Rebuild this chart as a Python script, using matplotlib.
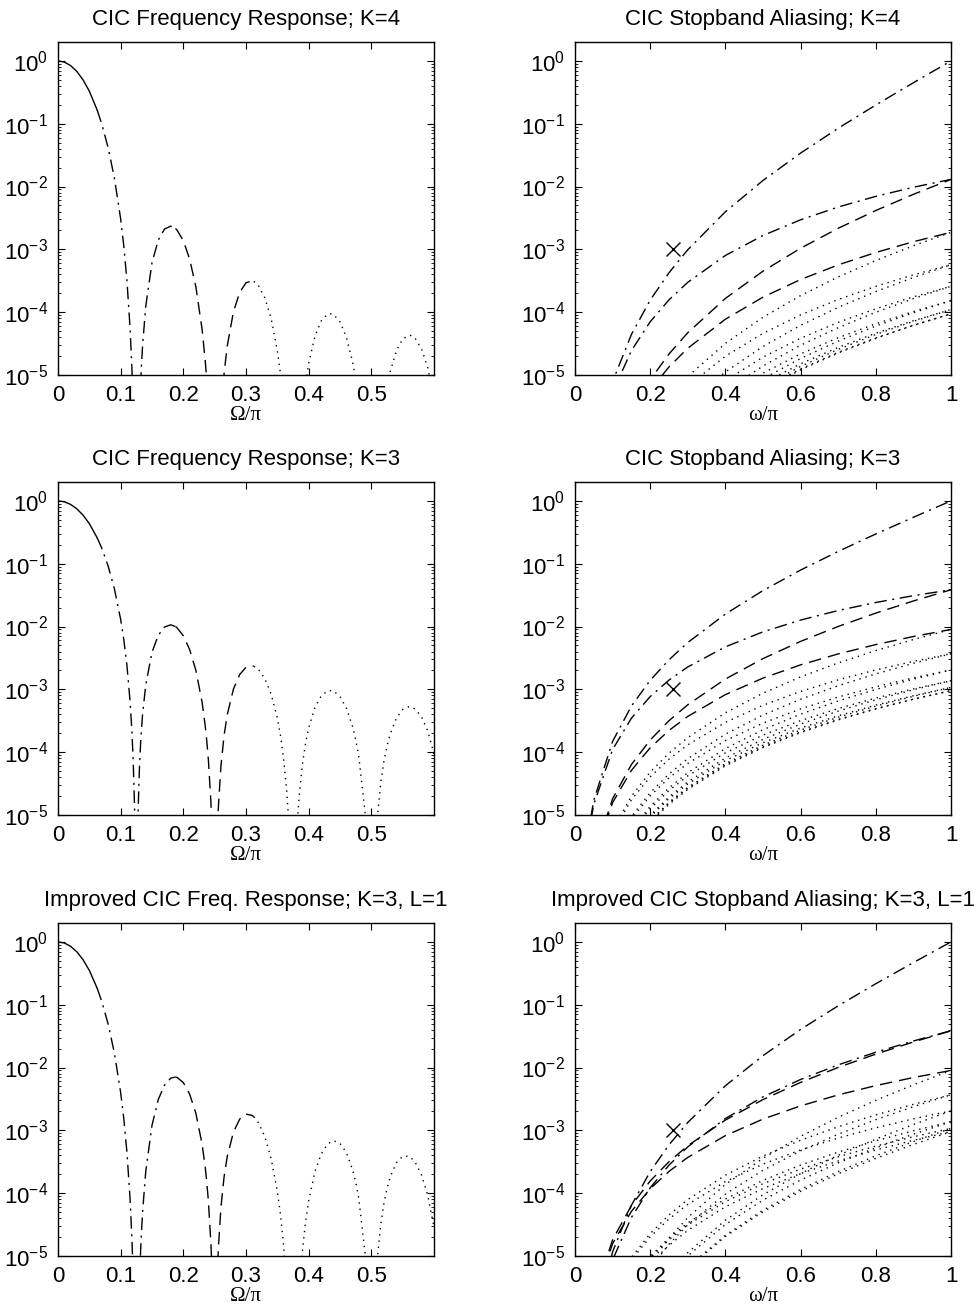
import matplotlib
matplotlib.use("Agg")
import matplotlib.pyplot as plt
import numpy as np

plt.rcParams['font.family'] = ['Liberation Sans', 'DejaVu Sans']
plt.rcParams['mathtext.fontset'] = 'custom'
plt.rcParams['mathtext.rm'] = 'Liberation Sans'
plt.rcParams['mathtext.it'] = 'Liberation Sans:italic'
plt.rcParams['mathtext.bf'] = 'Liberation Sans:bold'

# ---- frequency response panels (x = Omega/pi) ----
freq = [0, 0.01, 0.02, 0.03, 0.04, 0.05, 0.0625, 0.07, 0.08, 0.09,
        0.1, 0.105, 0.11, 0.115, 0.118, 0.12, 0.122, 0.1225, 0.1275, 0.128,
        0.13, 0.132, 0.133, 0.135, 0.14, 0.15, 0.16, 0.17, 0.18, 0.1875,
        0.19, 0.2, 0.21, 0.22, 0.23, 0.235, 0.237, 0.24, 0.244, 0.245,
        0.255, 0.256, 0.26, 0.265, 0.27, 0.28, 0.29, 0.3, 0.31, 0.3125,
        0.32, 0.33, 0.34, 0.35, 0.355, 0.36, 0.365, 0.367, 0.368, 0.382,
        0.383, 0.385, 0.39, 0.395, 0.4, 0.41, 0.42, 0.43, 0.4375, 0.44,
        0.45, 0.46, 0.47, 0.475, 0.48, 0.49, 0.491, 0.509, 0.51, 0.515,
        0.52, 0.525, 0.53, 0.54, 0.55, 0.56, 0.5625, 0.57, 0.58, 0.59,
        0.6]

resp_k4 = [1.0, 0.95893, 0.84427, 0.68049, 0.49889, 0.32943, 0.16532, 0.09798, 0.04145, 0.013646,
           3.0415e-3, 1.1309e-3, 3.2069e-4, 5.6020e-5, 1.2412e-5, 3.0541e-6, 3.7336e-7, 1.7737e-7, 1.5141e-7, 3.0889e-7,
           2.2262e-6, 7.9723e-6, 1.3119e-5, 2.9743e-5, 1.2375e-4, 6.1331e-4, 1.4060e-3, 2.1095e-3, 2.3451e-3, 2.1483e-3,
           2.0253e-3, 1.3692e-3, 7.0437e-4, 2.5446e-4, 5.2647e-5, 1.6532e-5, 9.2469e-6, 3.1781e-6, 3.9742e-7, 1.8956e-7,
           1.6287e-7, 3.3116e-7, 2.3461e-6, 1.0483e-5, 2.8659e-5, 1.0193e-4, 2.0702e-4, 2.9387e-4, 3.1573e-4, 3.0897e-4,
           2.6378e-4, 1.6973e-4, 8.0101e-5, 2.4438e-5, 1.0481e-5, 3.3995e-6, 6.7413e-7, 2.7495e-7, 1.6064e-7, 1.4071e-7,
           2.3635e-7, 5.5791e-7, 2.5590e-6, 7.1765e-6, 1.5259e-5, 4.1384e-5, 7.2481e-5, 9.2958e-5, 9.4206e-5, 9.1703e-5,
           7.0174e-5, 4.0546e-5, 1.6332e-5, 8.5791e-6, 3.7427e-6, 2.4885e-7, 1.6352e-7, 1.4599e-7, 2.1938e-7, 1.0217e-6,
           2.9085e-6, 6.2595e-6, 1.1187e-5, 2.4469e-5, 3.7339e-5, 4.2951e-5, 4.2735e-5, 3.8294e-5, 2.6238e-5, 1.3151e-5,
           4.2518e-6]

resp_k3 = [1.0, 0.96904, 0.88076, 0.74923, 0.59361, 0.43483, 0.25927, 0.17512, 0.09186, 0.039925,
           0.012951, 6.1667e-3, 2.3964e-3, 6.4753e-4, 2.0911e-4, 7.3056e-5, 1.5104e-5, 8.6429e-6, 7.6757e-6, 1.3102e-5,
           5.7634e-5, 1.5003e-4, 2.1798e-4, 4.0275e-4, 1.1733e-3, 3.8973e-3, 7.2608e-3, 9.8431e-3, 1.0657e-2, 9.9787e-3,
           9.5469e-3, 7.1177e-3, 4.3237e-3, 2.0147e-3, 6.1806e-4, 2.5927e-4, 1.6769e-4, 7.5270e-5, 1.5828e-5, 9.0849e-6,
           8.1073e-6, 1.3805e-5, 5.9946e-5, 1.8423e-4, 3.9169e-4, 1.0145e-3, 1.7259e-3, 2.2445e-3, 2.3686e-3, 2.3304e-3,
           2.0698e-3, 1.4870e-3, 8.4670e-4, 3.4758e-4, 1.8420e-4, 7.9170e-5, 2.3526e-5, 1.2007e-5, 8.0240e-6, 7.2653e-6,
           1.0719e-5, 2.0414e-5, 6.3981e-5, 1.3865e-4, 2.4414e-4, 5.1597e-4, 7.8554e-4, 9.4671e-4, 9.5622e-4, 9.3711e-4,
           7.6671e-4, 5.0812e-4, 2.5691e-4, 1.5852e-4, 8.5092e-5, 1.1142e-5, 8.1316e-6, 7.4686e-6, 1.0137e-5, 3.2136e-5,
           7.0428e-5, 1.2514e-4, 1.9344e-4, 3.4790e-4, 4.7767e-4, 5.3055e-4, 5.2855e-4, 4.8679e-4, 3.6660e-4, 2.1839e-4,
           9.3633e-5]

resp_imp = [1.0, 0.96140, 0.85309, 0.69661, 0.52018, 0.35178, 0.18333, 0.11162, 0.049221, 0.016999,
            4.0021e-3, 1.5336e-3, 4.4904e-4, 8.1157e-5, 1.8370e-5, 4.5873e-6, 5.693e-7, 2.715e-7, 2.411e-7, 4.938e-7,
            3.6189e-6, 1.3180e-5, 2.1877e-5, 5.0478e-5, 2.1985e-4, 1.2043e-3, 3.0915e-3, 5.2742e-3, 6.7930e-3, 7.0560e-3,
            6.9594e-3, 5.7583e-3, 3.7889e-3, 1.8732e-3, 5.9864e-4, 2.5468e-4, 1.6546e-4, 7.4677e-5, 1.5783e-5, 9.0670e-6,
            8.0913e-6, 1.3766e-5, 5.9473e-5, 1.8097e-4, 3.7938e-4, 9.4326e-4, 1.5124e-3, 1.8158e-3, 1.7266e-3, 1.6478e-3,
            1.3193e-3, 7.9678e-4, 3.6051e-4, 1.0741e-4, 4.5809e-5, 1.4835e-5, 2.9486e-6, 1.2050e-6, 7.0492e-7, 6.3826e-7,
            1.0758e-6, 2.5585e-6, 1.1989e-5, 3.4481e-5, 7.5443e-5, 2.1969e-4, 4.2091e-4, 6.0346e-4, 6.7615e-4, 6.8312e-4,
            6.2028e-4, 4.4527e-4, 2.3887e-4, 1.5076e-4, 8.2419e-5, 1.1054e-5, 8.0796e-6, 7.4209e-6, 1.0057e-5, 3.1567e-5,
            6.8215e-5, 1.1902e-4, 1.7986e-4, 3.0487e-4, 3.8644e-4, 3.8675e-4, 3.7374e-4, 3.1029e-4, 1.9643e-4, 9.2986e-5,
            2.8935e-5]

# passband | 1st alias band | 2nd alias band | rest
band_edges = [0.0, 0.0625, 0.1875, 0.3125, 0.6]

# ---- stopband aliasing panels (x = omega/pi) ----
omega = [0.03, 0.05, 0.1, 0.15, 0.2, 0.25, 0.3, 0.4, 0.5, 0.6, 0.7, 0.8, 0.9, 1.0]
alias_band = [1, 1, 2, 2, 3, 3, 4, 4, 5, 5, 6, 6, 7, 7, 8]

alias_k4 = [
    [5.514e-8, 4.4294e-7, 7.8531e-6, 4.4176e-5, 1.5559e-4, 4.2460e-4, 9.8741e-4, 3.9671e-3, 0.012505, 0.034085, 0.084716, 0.19855, 0.44929, 1.0],
    [4.897e-8, 3.636e-7, 5.2896e-6, 2.4405e-5, 7.0445e-5, 1.5740e-4, 2.9930e-4, 7.9997e-4, 1.6630e-3, 2.9554e-3, 4.7202e-3, 6.9803e-3, 9.7420e-3, 0.012999],
    [3.610e-9, 2.8395e-8, 4.7684e-7, 2.5352e-6, 8.4209e-6, 2.1622e-5, 4.7185e-5, 1.6554e-4, 4.5002e-4, 1.0425e-3, 2.1650e-3, 4.1557e-3, 7.5191e-3, 0.012999],
    [3.410e-9, 2.5827e-8, 3.9445e-7, 1.9074e-6, 5.7610e-6, 1.3450e-5, 2.6686e-5, 7.7331e-5, 1.7347e-4, 3.3115e-4, 5.6587e-4, 8.9205e-4, 1.3227e-3, 1.8692e-3],
    [8.04e-10, 6.277e-9, 1.0347e-7, 5.3984e-7, 1.7588e-6, 4.4274e-6, 9.4704e-6, 3.1874e-5, 8.2981e-5, 1.8373e-4, 3.6394e-4, 6.6478e-4, 1.1419e-3, 1.8692e-3],
    [7.76e-10, 5.918e-9, 9.2002e-8, 4.5256e-7, 1.3901e-6, 3.2998e-6, 6.6539e-6, 1.9903e-5, 4.6033e-5, 9.0517e-5, 1.5917e-4, 2.5797e-4, 3.9289e-4, 5.6987e-4],
    [3.05e-10, 2.369e-9, 3.8659e-8, 1.9968e-7, 6.4397e-7, 1.6044e-6, 3.3963e-6, 1.1190e-5, 2.8499e-5, 6.1697e-5, 1.1941e-4, 2.1301e-4, 3.5703e-4, 5.6987e-4],
    [2.97e-10, 2.277e-9, 3.5735e-8, 1.7748e-7, 5.5035e-7, 1.3184e-6, 2.6830e-6, 8.1704e-6, 1.9233e-5, 3.8472e-5, 6.8796e-5, 1.1334e-4, 1.7543e-4, 2.5850e-4],
    [1.59e-10, 1.231e-9, 1.9959e-8, 1.0239e-7, 3.2804e-7, 8.1184e-7, 1.7067e-6, 5.5458e-6, 1.3928e-5, 2.9722e-5, 5.6695e-5, 9.9632e-5, 1.6448e-4, 2.5850e-4],
    [1.56e-10, 1.199e-9, 1.8938e-8, 9.4649e-8, 2.9533e-7, 7.1197e-7, 1.4578e-6, 4.4950e-6, 1.0710e-5, 2.1681e-5, 3.9232e-5, 6.5392e-5, 1.0238e-4, 1.5257e-4],
    [1.04e-10, 8.03e-10, 1.2962e-8, 6.6178e-8, 2.1090e-7, 5.1927e-7, 1.0860e-6, 3.4929e-6, 8.6803e-6, 1.8328e-5, 3.4586e-5, 6.0125e-5, 9.8172e-5, 1.5257e-4],
    [1.03e-10, 7.90e-10, 1.2549e-8, 6.3018e-8, 1.9761e-7, 4.7873e-7, 9.8505e-7, 3.0664e-6, 7.3761e-6, 1.5074e-5, 2.7532e-5, 4.6319e-5, 7.3188e-5, 1.1007e-4],
    [8.15e-11, 6.30e-10, 1.0121e-8, 5.1439e-8, 1.6326e-7, 4.0022e-7, 8.3346e-7, 2.6573e-6, 6.5471e-6, 1.3703e-5, 2.5632e-5, 4.4163e-5, 7.1465e-5, 1.1007e-4],
    [8.11e-11, 6.25e-10, 9.9624e-9, 5.0248e-8, 1.5822e-7, 3.8491e-7, 7.9531e-7, 2.4964e-6, 6.0550e-6, 1.2475e-5, 2.2972e-5, 3.8964e-5, 6.2068e-5, 9.4099e-5],
    [7.52e-11, 5.81e-10, 9.2909e-9, 4.7042e-8, 1.4871e-7, 3.6317e-7, 7.5335e-7, 2.3830e-6, 5.8249e-6, 1.2095e-5, 2.2445e-5, 3.8365e-5, 6.1590e-5, 9.4099e-5],
]

alias_k3 = [
    [3.5985e-6, 1.7170e-5, 1.4835e-4, 5.4186e-4, 1.3931e-3, 2.9579e-3, 5.5702e-3, 0.015807, 0.037396, 0.079327, 0.15703, 0.29744, 0.54877, 1.0],
    [3.2920e-6, 1.4807e-5, 1.1030e-4, 3.4722e-4, 7.6893e-4, 1.4052e-3, 2.2755e-3, 4.7567e-3, 8.2352e-3, 0.012675, 0.018008, 0.024149, 0.031009, 0.038497],
    [4.6574e-7, 2.1874e-6, 1.8146e-5, 6.3535e-5, 1.5632e-4, 3.1708e-4, 5.6931e-4, 1.4594e-3, 3.0898e-3, 5.8016e-3, 0.010037, 0.016368, 0.025534, 0.038497],
    [4.4628e-7, 2.0373e-6, 1.5740e-5, 5.1325e-5, 1.1759e-4, 2.2209e-4, 3.7129e-4, 8.2464e-4, 1.5115e-3, 2.4548e-3, 3.6689e-3, 5.1617e-3, 6.9356e-3, 8.9896e-3],
    [1.5097e-7, 7.0518e-7, 5.7690e-6, 1.9916e-5, 4.8296e-5, 9.6519e-5, 1.7072e-4, 4.2421e-4, 8.6943e-4, 1.5781e-3, 2.6350e-3, 4.1401e-3, 6.2119e-3, 8.9896e-3],
    [1.4703e-7, 6.7478e-7, 5.2826e-6, 1.7448e-5, 4.0484e-5, 7.7423e-5, 1.3101e-4, 2.9799e-4, 5.5886e-4, 9.2800e-4, 1.4170e-3, 2.0355e-3, 2.7906e-3, 3.6884e-3],
    [7.290e-8, 3.3953e-7, 2.7570e-6, 9.4462e-6, 2.2733e-5, 4.5080e-5, 7.9114e-5, 1.9347e-4, 3.9006e-4, 6.9614e-4, 1.1423e-3, 1.7632e-3, 2.5973e-3, 3.6884e-3],
    [7.162e-8, 3.2967e-7, 2.5991e-6, 8.6468e-6, 2.0206e-5, 3.8907e-5, 6.6292e-5, 1.5282e-4, 2.9042e-4, 4.8849e-4, 7.5539e-4, 1.0985e-3, 1.5243e-3, 2.0387e-3],
    [4.471e-8, 2.0780e-7, 1.6792e-6, 5.7238e-6, 1.3707e-5, 2.7046e-5, 4.7218e-5, 1.1428e-4, 2.2799e-4, 4.0254e-4, 6.5337e-4, 9.9724e-4, 1.4524e-3, 2.0387e-3],
    [4.418e-8, 2.0375e-7, 1.6144e-6, 5.3962e-6, 1.2669e-5, 2.4510e-5, 4.1955e-5, 9.7621e-5, 1.8722e-4, 3.1773e-4, 4.9571e-4, 7.2718e-4, 1.0178e-3, 1.3728e-3],
    [3.252e-8, 1.5091e-7, 1.2148e-6, 4.1261e-6, 9.8415e-6, 1.9344e-5, 3.3642e-5, 8.0795e-5, 1.5992e-4, 2.8011e-4, 4.5100e-4, 6.8280e-4, 9.8626e-4, 1.3728e-3],
    [3.228e-8, 1.4908e-7, 1.1856e-6, 3.9774e-6, 9.3727e-6, 1.8200e-5, 3.1268e-5, 7.3277e-5, 1.4154e-4, 2.4192e-4, 3.8008e-4, 5.6146e-4, 7.9128e-4, 1.0746e-3],
    [2.713e-8, 1.2574e-7, 1.0090e-6, 3.4156e-6, 8.1219e-6, 1.5912e-5, 2.7585e-5, 6.5816e-5, 1.2943e-4, 2.2522e-4, 3.6023e-4, 5.4174e-4, 7.7727e-4, 1.0746e-3],
    [2.703e-8, 1.2500e-7, 9.9718e-7, 3.3561e-6, 7.9330e-6, 1.5453e-5, 2.6632e-5, 6.2803e-5, 1.2206e-4, 2.0991e-4, 3.3182e-4, 4.9317e-4, 6.9928e-4, 9.5541e-4],
    [2.555e-8, 1.1828e-7, 9.4633e-7, 3.1942e-6, 7.5728e-6, 1.4794e-5, 2.5571e-5, 6.0652e-5, 1.1857e-4, 2.0510e-4, 3.2609e-4, 4.8747e-4, 6.9524e-4, 9.5541e-4],
]

alias_imp = [
    [8.480e-8, 6.746e-7, 1.1675e-5, 6.4135e-5, 2.2064e-4, 5.8836e-4, 1.3373e-3, 5.1360e-3, 0.015490, 0.040419, 0.096228, 0.21610, 0.46869, 1.0],
    [7.758e-8, 5.818e-7, 8.681e-6, 4.1097e-5, 1.2179e-4, 2.7951e-4, 5.4630e-4, 1.5456e-3, 3.4111e-3, 6.4582e-3, 0.011035, 0.017545, 0.026484, 0.038497],
    [4.6574e-7, 2.1874e-6, 1.8146e-5, 6.3535e-5, 1.5632e-4, 3.1708e-4, 5.6931e-4, 1.4594e-3, 3.0898e-3, 5.8016e-3, 0.010037, 0.016368, 0.025534, 0.038497],
    [4.4628e-7, 2.0373e-6, 1.5740e-5, 5.1325e-5, 1.1759e-4, 2.2209e-4, 3.7129e-4, 8.2464e-4, 1.5115e-3, 2.4548e-3, 3.6689e-3, 5.1617e-3, 6.9356e-3, 8.9896e-3],
    [3.558e-9, 2.771e-8, 4.540e-7, 2.3573e-6, 7.6493e-6, 1.9199e-5, 4.0986e-5, 1.3784e-4, 3.6013e-4, 8.0408e-4, 1.6147e-3, 3.0080e-3, 5.3055e-3, 8.9896e-3],
    [3.465e-9, 2.651e-8, 4.158e-7, 2.0651e-6, 6.4120e-6, 1.5400e-5, 3.1453e-5, 9.6823e-5, 2.3149e-4, 4.7284e-4, 8.6834e-4, 1.4789e-3, 2.3834e-3, 3.6884e-3],
    [7.290e-8, 3.3953e-7, 2.7570e-6, 9.4462e-6, 2.2733e-5, 4.5080e-5, 7.9114e-5, 1.9347e-4, 3.9006e-4, 6.9614e-4, 1.1423e-3, 1.7632e-3, 2.5973e-3, 3.6884e-3],
    [7.162e-8, 3.2967e-7, 2.5991e-6, 8.6468e-6, 2.0206e-5, 3.8907e-5, 6.6292e-5, 1.5282e-4, 2.9042e-4, 4.8849e-4, 7.5539e-4, 1.0985e-3, 1.5243e-3, 2.0387e-3],
    [1.054e-9, 8.164e-9, 1.3216e-7, 6.7747e-7, 2.1710e-6, 5.3798e-6, 1.1336e-5, 3.7132e-5, 9.4437e-5, 2.0510e-4, 4.0039e-4, 7.2454e-4, 1.2405e-3, 2.0387e-3],
    [1.041e-9, 8.005e-9, 1.2706e-7, 6.3869e-7, 2.0066e-6, 4.8753e-6, 1.0073e-5, 3.1719e-5, 7.7549e-5, 1.6189e-4, 3.0377e-4, 5.2833e-4, 8.6928e-4, 1.3728e-3],
    [3.252e-8, 1.5091e-7, 1.2148e-6, 4.1261e-6, 9.8415e-6, 1.9344e-5, 3.3642e-5, 8.0795e-5, 1.5992e-4, 2.8011e-4, 4.5100e-4, 6.8280e-4, 9.8626e-4, 1.3728e-3],
    [3.228e-8, 1.4908e-7, 1.1856e-6, 3.9774e-6, 9.3727e-6, 1.8200e-5, 3.1268e-5, 7.3277e-5, 1.4154e-4, 2.4192e-4, 3.8008e-4, 5.6146e-4, 7.9128e-4, 1.0746e-3],
    [6.39e-10, 4.940e-9, 7.941e-8, 4.0427e-7, 1.2864e-6, 3.1651e-6, 6.6226e-6, 2.1385e-5, 5.3612e-5, 1.1476e-4, 2.2075e-4, 3.9360e-4, 6.6385e-4, 1.0746e-3],
    [6.37e-10, 4.911e-9, 7.848e-8, 3.9723e-7, 1.2565e-6, 3.0738e-6, 6.3938e-6, 2.0406e-5, 5.0559e-5, 1.0695e-4, 2.0334e-4, 3.5831e-4, 5.9724e-4, 9.5541e-4],
    [2.555e-8, 1.1828e-7, 9.4633e-7, 3.1942e-6, 7.5728e-6, 1.4794e-5, 2.5571e-5, 6.0652e-5, 1.1857e-4, 2.0510e-4, 3.2609e-4, 4.8747e-4, 6.9524e-4, 9.5541e-4],
]

# aliasing spec point
spec_omega = 0.26
spec_level = 1e-3

ytick_vals = [1e-5, 1e-4, 1e-3, 1e-2, 1e-1, 1]
ytick_labels = [r'$10^{-5}$', r'$10^{-4}$', r'$10^{-3}$', r'$10^{-2}$', r'$10^{-1}$', r'$10^{0}$']

SOLID = '-'
DASHDOT = (0, (9, 4, 1.5, 4))
DASHED = (0, (9, 5))
DOTTED = (0, (1, 3.5))
LW = 1.0


def setup_axes(ax, title, xlim, xticks, xlabels, xlabel):
    ax.set_yscale('log')
    ax.set_xlim(*xlim)
    ax.set_ylim(1e-5, 2)
    ax.set_xticks(xticks, labels=xlabels)
    ax.set_yticks(ytick_vals, labels=ytick_labels)
    ax.yaxis.set_minor_locator(matplotlib.ticker.LogLocator(base=10, subs=(2, 3, 4, 5, 6, 7, 8, 9)))
    ax.yaxis.set_minor_formatter(matplotlib.ticker.NullFormatter())
    ax.tick_params(which='both', direction='in', top=True, right=True, labelsize=16, pad=7)
    ax.tick_params(which='major', length=5, width=0.8)
    ax.tick_params(which='minor', length=2.5, width=0.6)
    for sp in ax.spines.values():
        sp.set_linewidth(1.0)
    ax.set_title(title, fontsize=16, pad=12)
    ax.set_xlabel(xlabel, fontsize=15, family='Liberation Serif', labelpad=0)


def plot_response(ax, resp, title):
    f = np.asarray(freq)
    h = np.asarray(resp)
    styles = [SOLID, DASHDOT, DASHED, DOTTED]
    for i, ls in enumerate(styles):
        m = (f >= band_edges[i]) & (f <= band_edges[i + 1])
        ax.plot(f[m], h[m], color='k', lw=LW, linestyle=ls)
    setup_axes(ax, title, (0, 0.6), [0, 0.1, 0.2, 0.3, 0.4, 0.5],
               ['0', '0.1', '0.2', '0.3', '0.4', '0.5'], 'Ω/π')


def plot_alias(ax, curves, title):
    for band, vals in zip(alias_band, curves):
        ls = DASHDOT if band == 1 else (DASHED if band == 2 else DOTTED)
        ax.plot(omega, vals, color='k', lw=LW, linestyle=ls)
    ax.plot([spec_omega], [spec_level], linestyle='none', marker='x',
            ms=10, mew=1.0, color='k')
    setup_axes(ax, title, (0, 1), [0, 0.2, 0.4, 0.6, 0.8, 1],
               ['0', '0.2', '0.4', '0.6', '0.8', '1'], 'ω/π')


fig = plt.figure(figsize=(9.8, 13.06), dpi=100)
W, H = 980.0, 1306.0
aw, ah = 376 / W, 333 / H
lefts = [58 / W, 575 / W]
bottoms = [(H - 375) / H, (H - 815) / H, (H - 1256) / H]

ax = fig.add_axes([lefts[0], bottoms[0], aw, ah])
plot_response(ax, resp_k4, 'CIC Frequency Response; K=4')
ax = fig.add_axes([lefts[1], bottoms[0], aw, ah])
plot_alias(ax, alias_k4, 'CIC Stopband Aliasing; K=4')

ax = fig.add_axes([lefts[0], bottoms[1], aw, ah])
plot_response(ax, resp_k3, 'CIC Frequency Response; K=3')
ax = fig.add_axes([lefts[1], bottoms[1], aw, ah])
plot_alias(ax, alias_k3, 'CIC Stopband Aliasing; K=3')

ax = fig.add_axes([lefts[0], bottoms[2], aw, ah])
plot_response(ax, resp_imp, 'Improved CIC Freq. Response; K=3, L=1')
ax = fig.add_axes([lefts[1], bottoms[2], aw, ah])
plot_alias(ax, alias_imp, 'Improved CIC Stopband Aliasing; K=3, L=1')

fig.savefig('out.png', dpi=100)
